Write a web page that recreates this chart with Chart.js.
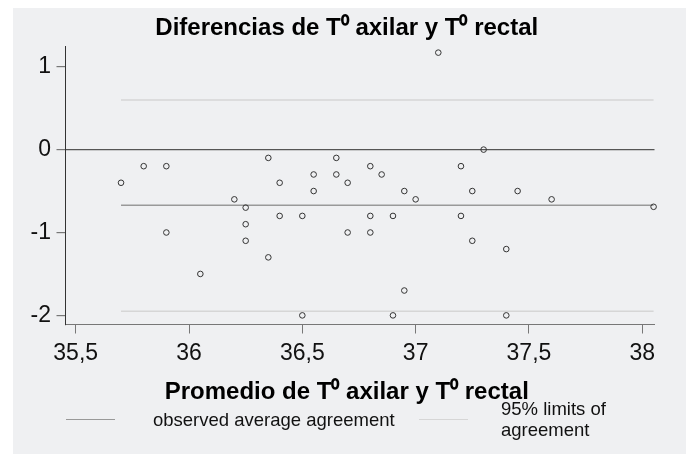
<!DOCTYPE html>
<html>
<head>
<meta charset="utf-8">
<script src="https://cdn.jsdelivr.net/npm/chart.js@4"></script>
<style>
  body { margin: 0; background: #fff; }
  #wrap { position: relative; width: 686px; height: 461px; font-family: 'Liberation Sans', Arial, sans-serif; }
  #panel { position: absolute; left: 13px; top: 8px; width: 673px; height: 446px; background: #eff0f2; }
  #chart { position: absolute; left: 0; top: 0; }
  .swatch { position: absolute; height: 0; width: 49px; border-top: 1.5px solid; }
  .lbl { position: absolute; font-size: 18.5px; line-height: 21px; color: #111; }
</style>
</head>
<body>
<div id="wrap">
  <div id="panel"></div>
  <canvas id="chart" width="686" height="461"></canvas>
  <div class="swatch" style="left:66px;top:419px;border-color:#999"></div>
  <div class="lbl" style="left:153px;top:409px">observed average agreement</div>
  <div class="swatch" style="left:419px;top:419px;border-color:#d6d6d6"></div>
  <div class="lbl" style="left:501px;top:398px">95% limits of<br>agreement</div>
</div>
<script>
'use strict';

// ── Data ──────────────────────────────────────────────────────────────────────

const avgTemps = [
  35.7, 35.8, 35.9, 35.9, 36.05, 36.2, 36.25, 36.25, 36.25, 36.35,
  36.35, 36.4, 36.4, 36.5, 36.5, 36.55, 36.55, 36.65, 36.65, 36.7,
  36.7, 36.8, 36.8, 36.8, 36.85, 36.9, 36.9, 36.95, 36.95, 37.0,
  37.1, 37.2, 37.2, 37.25, 37.25, 37.3, 37.4, 37.4, 37.45, 37.6,
  38.05,
];
const tempDiffs = [
  -0.4, -0.2, -0.2, -1.0, -1.5, -0.6, -0.7, -0.9, -1.1, -0.1,
  -1.3, -0.4, -0.8, -0.8, -2.0, -0.3, -0.5, -0.1, -0.3, -0.4,
  -1.0, -0.8, -1.0, -0.2, -0.3, -0.8, -2.0, -0.5, -1.7, -0.6,
  1.17, -0.2, -0.8, -0.5, -1.1, 0, -1.2, -2.0, -0.5, -0.6,
  -0.69,
];

const meanDiff   = -0.67;
const upperLimit = 0.6;
const lowerLimit = -1.95;

const xTicks      = [35.5, 36, 36.5, 37, 37.5, 38];
const xTickLabels = ['35,5', '36', '36,5', '37', '37,5', '38'];
const yTicks      = [-2, -1, 0, 1];

const chartTitle = 'Diferencias de T\u2070 axilar y T\u2070 rectal';
const xTitle     = 'Promedio de T\u2070 axilar y T\u2070 rectal';

// ── Chart ─────────────────────────────────────────────────────────────────────

Chart.defaults.font.family = "'Liberation Sans', Arial, sans-serif";
Chart.defaults.color = '#111';

const xMin = Math.min(...avgTemps);
const xMax = Math.max(...avgTemps);

function hLine(y, color, width) {
  return {
    type: 'line',
    data: [{ x: xMin, y }, { x: xMax, y }],
    borderColor: color,
    borderWidth: width,
    pointRadius: 0,
    fill: false,
  };
}

// Titles sit centred on the grey panel rather than on the plot: a small left
// padding plus an empty right-hand axis box shifts their span to the right.
new Chart(document.getElementById('chart'), {
  type: 'scatter',
  data: {
    datasets: [
      {
        data: avgTemps.map((x, i) => ({ x, y: tempDiffs[i] })),
        pointRadius: 2.8,
        pointBorderWidth: 1,
        pointBorderColor: '#333',
        pointBackgroundColor: 'transparent',
        clip: false,
      },
      hLine(meanDiff, '#999', 1.5),
      hLine(upperLimit, '#d6d6d6', 1.5),
      hLine(lowerLimit, '#d6d6d6', 1.5),
    ],
  },
  options: {
    responsive: false,
    animation: false,
    layout: { padding: { left: 7.5, right: 0, top: 0, bottom: 0 } },
    plugins: {
      legend: { display: false },
      tooltip: { enabled: false },
      title: {
        display: true,
        text: chartTitle,
        color: '#000',
        font: { size: 24, weight: 'bold', lineHeight: 1.2 },
        padding: { top: 14.1, bottom: 3.1 },
      },
      subtitle: {
        display: true,
        position: 'bottom',
        text: xTitle,
        color: '#000',
        font: { size: 24, weight: 'bold', lineHeight: 1.1 },
        padding: { top: 0, bottom: 55.1 },
      },
    },
    scales: {
      x: {
        type: 'linear',
        min: 35.455,
        max: 38.054,
        afterFit: s => { s.height = 55; },
        afterBuildTicks: s => { s.ticks = xTicks.map(value => ({ value })); },
        grid: { drawOnChartArea: false, tickLength: 9, tickColor: '#777' },
        border: { color: '#777', width: 1 },
        ticks: {
          autoSkip: false,
          maxRotation: 0,
          padding: 6,
          color: '#111',
          font: { size: 23 },
          callback: (v, i) => xTickLabels[i],
        },
      },
      y: {
        min: -2.11,
        max: 1.25,
        afterFit: s => { s.width = 58; },
        afterBuildTicks: s => { s.ticks = yTicks.map(value => ({ value })); },
        grid: {
          color: ctx => (ctx.tick && ctx.tick.value === 0 ? '#555' : 'rgba(0,0,0,0)'),
          lineWidth: 1.2,
          tickLength: 9,
          tickColor: '#777',
        },
        border: { color: '#333', width: 1 },
        ticks: {
          padding: 5.5,
          color: '#111',
          font: { size: 23 },
          callback: v => String(v),
        },
      },
      spacer: {
        type: 'linear',
        position: 'right',
        display: true,
        afterFit: s => { s.width = 31.5; },
        grid: { display: false },
        border: { display: false },
        ticks: { display: false },
      },
    },
  },
});
</script>
</body>
</html>
